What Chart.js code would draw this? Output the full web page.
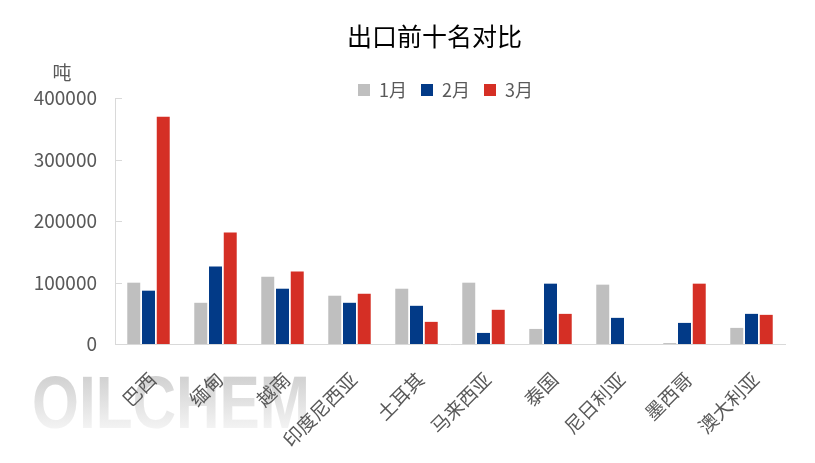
<!DOCTYPE html>
<html>
<head>
<meta charset="utf-8">
<script src="https://cdn.jsdelivr.net/npm/chart.js@4/dist/chart.umd.min.js"></script>
<style>
  html, body { margin: 0; padding: 0; background: #fff; }
  #wrap { width: 815px; height: 463px; }
</style>
</head>
<body>
<div id="wrap"><canvas id="chart"></canvas></div>
<script>
const countries = ['巴西', '缅甸', '越南', '印度尼西亚', '土耳其', '马来西亚', '泰国', '尼日利亚', '墨西哥', '澳大利亚'];
const janValues = [99700, 67000, 109500, 78500, 89900, 99700, 24500, 96500, 1500, 26200];
const febValues = [86700, 125900, 89900, 67000, 62100, 18000, 98100, 42500, 34300, 49000];
const marValues = [369500, 181500, 117700, 81700, 36000, 55600, 49000, 0, 98100, 47400];
const yTicks = [0, 100000, 200000, 300000, 400000];

const FONT = "'Noto Sans CJK SC', 'Noto Sans', sans-serif";
const TEXT = '#595959';

// watermark, unit label, inside tick marks, and nudging title/legend off canvas centre
const extras = {
    id: 'extras',
    afterLayout(chart) {
        const t = chart.titleBlock;
        t.left += 42; t.right += 42;
        const l = chart.legend;
        l.left += 53; l.right += 53;
        l.top += 11; l.bottom += 11;
    },
    beforeDraw(chart) {
        const ctx = chart.ctx;
        ctx.save();
        ctx.font = "bold 74px 'Liberation Sans', sans-serif";
        const w = ctx.measureText('OILCHEM').width;
        ctx.translate(32, 428);
        ctx.scale(278 / w, 1);
        const g = ctx.createLinearGradient(0, -53, 0, 0);
        g.addColorStop(0, '#d0d0d0');
        g.addColorStop(1, '#f3f3f3');
        ctx.fillStyle = g;
        ctx.textBaseline = 'alphabetic';
        ctx.fillText('OILCHEM', 0, 0);
        ctx.restore();
    },
    beforeDatasetsDraw(chart) {
        const ctx = chart.ctx;
        const y = chart.scales.y;
        ctx.save();
        ctx.strokeStyle = '#d9d9d9';
        ctx.lineWidth = 1;
        yTicks.forEach(v => {
            const py = Math.round(y.getPixelForValue(v)) + 0.5;
            ctx.beginPath();
            ctx.moveTo(chart.chartArea.left, py);
            ctx.lineTo(chart.chartArea.left + 7, py);
            ctx.stroke();
        });
        ctx.restore();
    },
    afterDraw(chart) {
        const ctx = chart.ctx;
        ctx.save();
        ctx.fillStyle = TEXT;
        ctx.font = '19px ' + FONT;
        ctx.textAlign = 'center';
        ctx.textBaseline = 'middle';
        ctx.fillText('吨', 62, 73);
        ctx.restore();
    }
};

new Chart(document.getElementById('chart'), {
    type: 'bar',
    data: {
        labels: countries,
        datasets: [
            { label: '1月', data: janValues, backgroundColor: '#bfbfbf' },
            { label: '2月', data: febValues, backgroundColor: '#023a87' },
            { label: '3月', data: marValues, backgroundColor: '#d52f25' }
        ]
    },
    options: {
        responsive: true,
        maintainAspectRatio: false,
        animation: false,
        layout: { padding: { left: 0, right: 30, top: 0, bottom: 0 } },
        datasets: { bar: { categoryPercentage: 0.66, barPercentage: 0.88 } },
        plugins: {
            title: {
                display: true,
                text: '出口前十名对比',
                color: '#000',
                font: { family: FONT, size: 25, weight: 'normal' },
                padding: { top: 21, bottom: 5 }
            },
            legend: {
                display: true,
                labels: {
                    color: TEXT,
                    font: { family: FONT, size: 18 },
                    boxWidth: 12,
                    boxHeight: 12,
                    padding: 14
                }
            },
            tooltip: { enabled: false }
        },
        scales: {
            x: {
                grid: { display: false },
                border: { display: true, color: '#d9d9d9' },
                ticks: {
                    color: TEXT,
                    font: { family: FONT, size: 19 },
                    autoSkip: false,
                    minRotation: 45,
                    maxRotation: 45,
                    padding: 16,
                    labelOffset: 4
                },
                afterFit(scale) { scale.height = 119; }
            },
            y: {
                min: 0,
                max: 400000,
                grid: { display: false, drawTicks: false },
                border: { display: true, color: '#d9d9d9' },
                ticks: {
                    stepSize: 100000,
                    color: TEXT,
                    font: { family: FONT, size: 19 },
                    padding: 18,
                    callback: v => String(v)
                },
                afterFit(scale) { scale.width = 115; }
            }
        }
    },
    plugins: [extras]
});
</script>
</body>
</html>
